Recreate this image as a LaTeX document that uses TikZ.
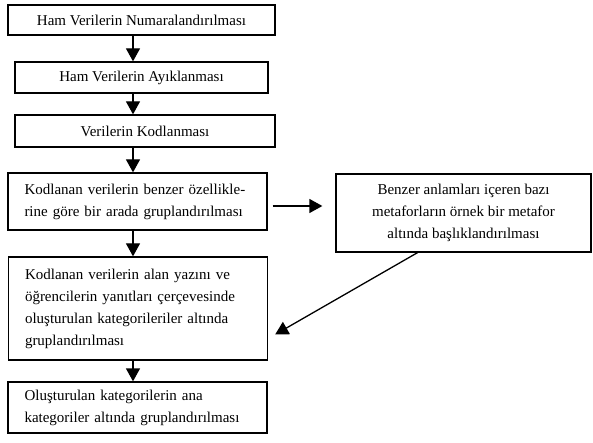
\documentclass[tikz,border=0pt]{standalone}
\usepackage{fontspec}
\setmainfont{Liberation Serif}
\usetikzlibrary{arrows.meta,positioning}
\tikzset{
  >={Triangle[length=13pt,width=14pt]},
  stage/.style={draw=black,line width=1.3pt,fill=white,inner sep=0pt,align=center,
    font=\fontsize{15}{22}\selectfont},
  stage left/.style={stage,text width=226pt,align=left,minimum width=259pt},
  flow/.style={->,line width=1.3pt,draw=black},
}
\begin{document}
\begin{tikzpicture}[x=1pt,y=-1pt]
  \useasboundingbox (0,0) rectangle (593,443);
  % main chain
  \node[stage,minimum width=267pt,minimum height=30pt] (s1) at (141.5,20) {Ham Verilerin Numaralandırılması};
  \node[stage,minimum width=253pt,minimum height=31pt] (s2) at (141.5,77.5) {Ham Verilerin Ayıklanması};
  \node[stage,minimum width=260pt,minimum height=32pt] (s3) at (145,131) {Verilerin Kodlanması};
  \node[stage left,minimum height=57pt] (s4) at (137.5,201.5) {Kodlanan verilerin benzer özellikle-\\rine göre bir arada gruplandırılması};
  \node[stage left,minimum height=103pt] (s5) at (138,308.5) {Kodlanan verilerin alan yazını ve\\öğrencilerin yanıtları çerçevesinde\\oluşturulan kategorileriler altında\\gruplandırılması};
  \node[stage left,minimum height=51pt] (s6) at (137.5,407.5) {Oluşturulan kategorilerin ana\\kategoriler altında gruplandırılması};
  % side box
  \node[stage,minimum width=255pt,minimum height=78pt] (meta) at (463.5,213) {Benzer anlamları içeren bazı\\metaforların örnek bir metafor\\altında başlıklandırılması};
  \coordinate (spine) at (133,0);
  \foreach \a/\b in {s1/s2,s2/s3,s3/s4,s4/s5,s5/s6}
    \draw[flow] (\a.south -| spine) -- (\b.north -| spine);
  \draw[flow,shorten <=5pt,shorten >=13pt] ([yshift=-4.5pt]s4.east) -- ([yshift=-4.5pt]s4.east -| meta.west);
  \draw[flow] ([xshift=-46pt]meta.south) -- ([xshift=7pt,yshift=-26pt]s5.east);
\end{tikzpicture}
\end{document}
